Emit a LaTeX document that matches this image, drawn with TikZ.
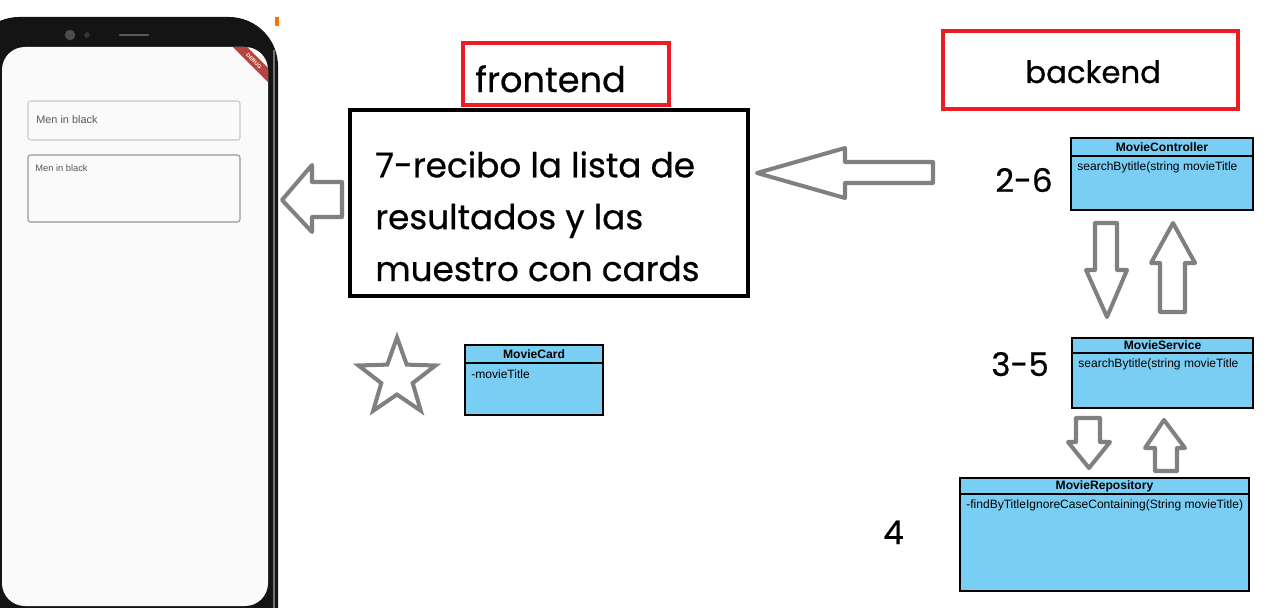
\documentclass[tikz,border=0pt]{standalone}
\usepackage{fontspec}
\setmainfont{Liberation Sans}
\newfontfamily\handfont[FakeBold=0.6]{Poppins}
\usetikzlibrary{shapes.geometric}
\definecolor{umlblue}{HTML}{7ACEF4}
\definecolor{arrowgray}{HTML}{808080}
\definecolor{tagred}{HTML}{ED1C24}
\definecolor{screen}{HTML}{FAFAFA}
\definecolor{phone}{HTML}{141414}
\definecolor{fieldline}{HTML}{C8C8C8}
\definecolor{debugred}{HTML}{B5433F}
\tikzset{
  garrow/.style={draw=arrowgray, line width=2.3pt, line join=round, fill=white},
  tagbox/.style={draw=tagred, line width=2.3pt},
  hand/.style={font=\handfont\fontsize{19.5}{29.5}\selectfont, text=black, inner sep=0pt, anchor=base west},
  umlbox/.style={draw=black, line width=0.6pt, fill=umlblue},
  umltitle/.style={font=\bfseries\fontsize{6.9}{8}\selectfont, inner sep=0pt},
  umlattr/.style={font=\fontsize{6.85}{8}\selectfont, inner sep=0pt, anchor=west},
  field/.style={draw=fieldline, line width=0.6pt, fill=screen, rounded corners=1.5pt},
  fieldtxt/.style={text=black!65, inner sep=0pt, anchor=west}
}
% class box: name, x1, y1, x2, y2, header line, title, attribute
\newcommand{\umlclass}[8]{%
  \draw[umlbox] (#2,#3) rectangle (#4,#5);
  \draw[line width=0.6pt] (#2,#6) -- (#4,#6);
  \node[umltitle] (#1-title) at ({(#2+#4)/2},{(#3+#6)/2}) {#7};
  \node[umlattr] (#1-attr) at ({#2+6},{#6+11}) {#8};
}

\begin{document}
\begin{tikzpicture}[x=0.02cm, y=-0.02cm]
  \useasboundingbox (0,0) rectangle (1267,608);
  \clip (0,0) rectangle (1267,608);

  % phone
  \fill[orange!90!red] (275,17) rectangle (279,26);
  \fill[phone, rounded corners=28pt] (-30,17) rectangle (278,660);
  \draw[black!55, line width=1.4pt] (274,50) -- (274,608);
  \fill[screen, rounded corners=13pt] (2,47) rectangle (268,606);
  \fill[black!70] (70,35) circle (3pt);
  \fill[black!80] (87,35) circle (1.6pt);
  \draw[black!65, line width=1.6pt, line cap=round] (120,35) -- (148,35);
  \begin{scope}
    \clip[rounded corners=13pt] (2,47) rectangle (268,606);
    \node[fill=debugred, text=white, rotate=-45, minimum width=2.2cm, minimum height=0.2cm,
          inner sep=0pt, font=\bfseries\fontsize{3}{3}\selectfont] (debug) at (254,61) {DEBUG};
  \end{scope}

  \draw[field] (28,101) rectangle (240,140);
  \node[fieldtxt, font=\fontsize{6.2}{7}\selectfont] (field1) at (36,120) {Men in black};
  \draw[field, draw=black!40] (28,155) rectangle (240,222);
  \node[fieldtxt, font=\fontsize{5.3}{6}\selectfont] (field2) at (35,168) {Men in black};

  % frontend side
  \draw[tagbox] (463,43) rectangle (669,105);
  \node[hand, font=\handfont\fontsize{20}{24}\selectfont] (front) at (475,92) {frontend};

  \draw[line width=2.3pt] (350,110) rectangle (748,296);
  \node[hand, align=left] (msg) at (375,281) {7-recibo la lista de\\resultados y las\\muestro con cards};

  \draw[garrow] (282,200) -- (312,165) -- (312,182) -- (342,182) -- (342,217) -- (312,217) -- (312,232) -- cycle;
  \draw[garrow] (757,173) -- (845,148) -- (845,162) -- (933,162) -- (933,183) -- (845,183) -- (845,198) -- cycle;

  \node[star, star points=5, star point ratio=2.45, draw=arrowgray, line width=2.3pt,
        minimum size=1.62cm, inner sep=0pt] (fav) at (397,378) {};
  \umlclass{card}{465}{345}{603}{415}{363}{MovieCard}{-movieTitle}

  % backend side
  \draw[tagbox] (943,31) rectangle (1238,109);
  \node[hand, font=\handfont\fontsize{17.5}{21}\selectfont] (back) at (1025,83) {backend};

  \umlclass{ctrl}{1071}{138}{1253}{210}{156}{MovieController}{searchBytitle(string movieTitle}
  \umlclass{serv}{1072}{338}{1253}{408}{353}{MovieService}{searchBytitle(string movieTitle}
  \umlclass{repo}{960}{478}{1249}{591}{494}{MovieRepository}{-findByTitleIgnoreCaseContaining(String movieTitle)}

  \node[hand, font=\handfont\fontsize{18.5}{22}\selectfont] (step1) at (995,192) {2-6};
  \node[hand, font=\handfont\fontsize{18.5}{22}\selectfont] (step2) at (991,376) {3-5};
  \node[hand, font=\handfont\fontsize{18.5}{22}\selectfont] (step3) at (883,544) {4};

  % calls down and back up
  \draw[garrow] (1095,223) -- (1117,223) -- (1117,270) -- (1127,270) -- (1107,317) -- (1086,270) -- (1095,270) -- cycle;
  \draw[garrow] (1173,223) -- (1195,263) -- (1185,263) -- (1185,312) -- (1160,312) -- (1160,263) -- (1151,263) -- cycle;
  \draw[garrow] (1076,418) -- (1100,418) -- (1100,442) -- (1110,442) -- (1089,468) -- (1068,442) -- (1076,442) -- cycle;
  \draw[garrow] (1164,420) -- (1185,448) -- (1177,448) -- (1177,471) -- (1155,471) -- (1155,448) -- (1145,448) -- cycle;
\end{tikzpicture}
\end{document}
